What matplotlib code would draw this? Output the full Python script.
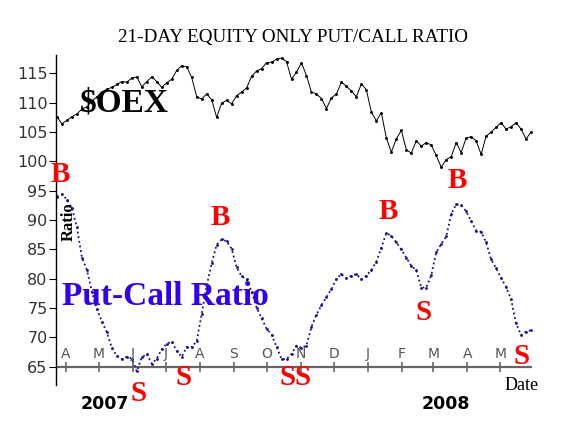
import numpy as np
import pandas as pd
import matplotlib
matplotlib.use("Agg")
import matplotlib.pyplot as plt

# S&P 100 ($OEX) level, every few trading days
oex = [107.6, 106.4, 107.0, 107.6, 108.1, 108.9, 109.3, 110.3, 111.0, 111.8,
       112.3, 112.6, 113.1, 113.6, 113.5, 114.2, 114.4, 112.7, 113.6, 114.4,
       113.6, 112.6, 113.4, 114.0, 115.5, 116.3, 116.1, 114.3, 111.0, 110.6,
       111.5, 110.5, 107.5, 109.9, 110.4, 109.8, 111.2, 111.8, 112.5, 114.5,
       115.4, 115.8, 116.8, 116.9, 117.4, 117.6, 117.0, 114.0, 115.2, 116.8,
       114.6, 111.8, 111.5, 110.7, 109.0, 110.8, 111.5, 113.5, 112.8, 112.0,
       111.0, 113.2, 112.2, 108.4, 106.9, 108.3, 104.0, 101.6, 103.8, 105.3,
       102.0, 101.4, 103.5, 102.6, 103.2, 102.8, 101.0, 99.0, 100.3, 100.8,
       103.2, 101.5, 104.0, 104.2, 103.5, 101.2, 104.3, 105.0, 105.8, 106.6,
       105.5, 105.9, 106.6, 105.5, 103.8, 105.0]

# 21-day equity-only put/call ratio (x100)
pcr = [94.0, 94.4, 93.5, 92.0, 88.8, 83.6, 81.5, 77.8, 74.8, 72.7,
       70.9, 68.2, 66.9, 66.3, 66.7, 66.4, 64.2, 66.6, 67.2, 65.5,
       66.4, 68.0, 68.9, 69.3, 67.7, 66.7, 68.4, 68.3, 69.4, 74.0,
       78.8, 82.6, 85.8, 86.7, 86.4, 85.1, 82.0, 80.4, 79.9, 77.8,
       75.1, 73.3, 71.5, 70.5, 68.4, 66.3, 66.3, 67.2, 68.6, 68.2,
       68.6, 71.8, 73.9, 75.5, 76.9, 78.2, 80.0, 80.8, 80.1, 80.5,
       80.8, 79.9, 80.5, 81.5, 82.9, 85.3, 87.8, 87.3, 86.2, 85.0,
       83.6, 82.2, 81.5, 78.5, 78.5, 80.6, 84.5, 85.9, 87.2, 91.0,
       92.7, 92.5, 91.5, 89.8, 88.2, 88.0, 86.2, 83.3, 81.8, 80.1,
       78.6, 76.5, 72.4, 70.4, 71.0, 71.2]

dates = pd.date_range("2007-03-24", "2008-05-29", periods=len(oex))

month_ticks = pd.date_range("2007-04-01", "2008-05-01", freq="MS")
month_labels = ["A", "M", "J", "J", "A", "S", "O", "N", "D", "J", "F", "M", "A", "M"]

# buy / sell signal labels
signals = [("B", "2007-03-27", 97.7), ("B", "2007-08-20", 90.5),
           ("B", "2008-01-20", 91.4), ("B", "2008-03-23", 96.8),
           ("S", "2007-06-06", 60.4), ("S", "2007-07-17", 63.1),
           ("S", "2007-10-20", 63.1), ("S", "2007-11-03", 63.1),
           ("S", "2008-02-21", 74.2), ("S", "2008-05-20", 66.7)]

serif = "Liberation Serif"

fig = plt.figure(figsize=(5.88, 4.41), dpi=100)
ax = fig.add_axes([0.095, 0.127, 0.81, 0.748])

ax.plot(dates, oex, color="black", lw=0.7, marker=".", ms=2.2)
ax.plot(dates, pcr, color="#10108a", lw=1.3, ls=(0, (1, 1.6)), marker=".", ms=2.0)

# baseline at 65 with month ticks
ax.axhline(65, color="#666666", lw=1.6, zorder=1)
ax.plot(month_ticks, [65] * len(month_ticks), "|", color="#666666", ms=7, mew=1.2)
for d, lab in zip(month_ticks, month_labels):
    ax.annotate(lab, (d, 65), xytext=(0, 4), textcoords="offset points",
                ha="center", va="bottom", fontsize=10, color="#555555")

ax.set_xlim(dates[0] - pd.Timedelta(days=1), dates[-1] + pd.Timedelta(days=1))
ax.set_ylim(61.9, 118.1)
ax.set_yticks(np.arange(65, 116, 5))
ax.set_xticks([])
ax.tick_params(axis="y", direction="out", length=5, pad=1, labelsize=11.5, labelcolor="#333333")
for s in ["top", "right", "bottom"]:
    ax.spines[s].set_visible(False)
ax.spines["left"].set_linewidth(1.0)

# labels
fig.text(0.498, 0.914, "21-DAY EQUITY ONLY PUT/CALL RATIO", ha="center", va="center",
         family=serif, fontsize=13.8)
ax.text(pd.Timestamp("2007-05-24"), 109.9, "$OEX", family=serif, weight="bold",
        fontsize=24, ha="center", va="center", color="black")
ax.text(pd.Timestamp("2007-07-01"), 76.9, "Put-Call Ratio", family=serif, weight="bold",
        fontsize=24, ha="center", va="center", color="#3300ee")
ax.text(pd.Timestamp("2007-04-04"), 89.8, "Ratio", family=serif, weight="bold", fontsize=12,
        rotation=90, ha="center", va="center")
ax.text(pd.Timestamp("2008-05-20"), 61.8, "Date", family=serif, fontsize=13,
        ha="center", va="center", clip_on=False)
ax.text(pd.Timestamp("2007-05-07"), 58.7, "2007", weight="bold", fontsize=12.5,
        ha="center", va="center", clip_on=False)
ax.text(pd.Timestamp("2008-03-12"), 58.7, "2008", weight="bold", fontsize=12.5,
        ha="center", va="center", clip_on=False)

for lab, d, v in signals:
    ax.text(pd.Timestamp(d), v, lab, family=serif, weight="bold", fontsize=21,
            color="red", ha="center", va="center", clip_on=False)

fig.savefig("out.png", dpi=100)
